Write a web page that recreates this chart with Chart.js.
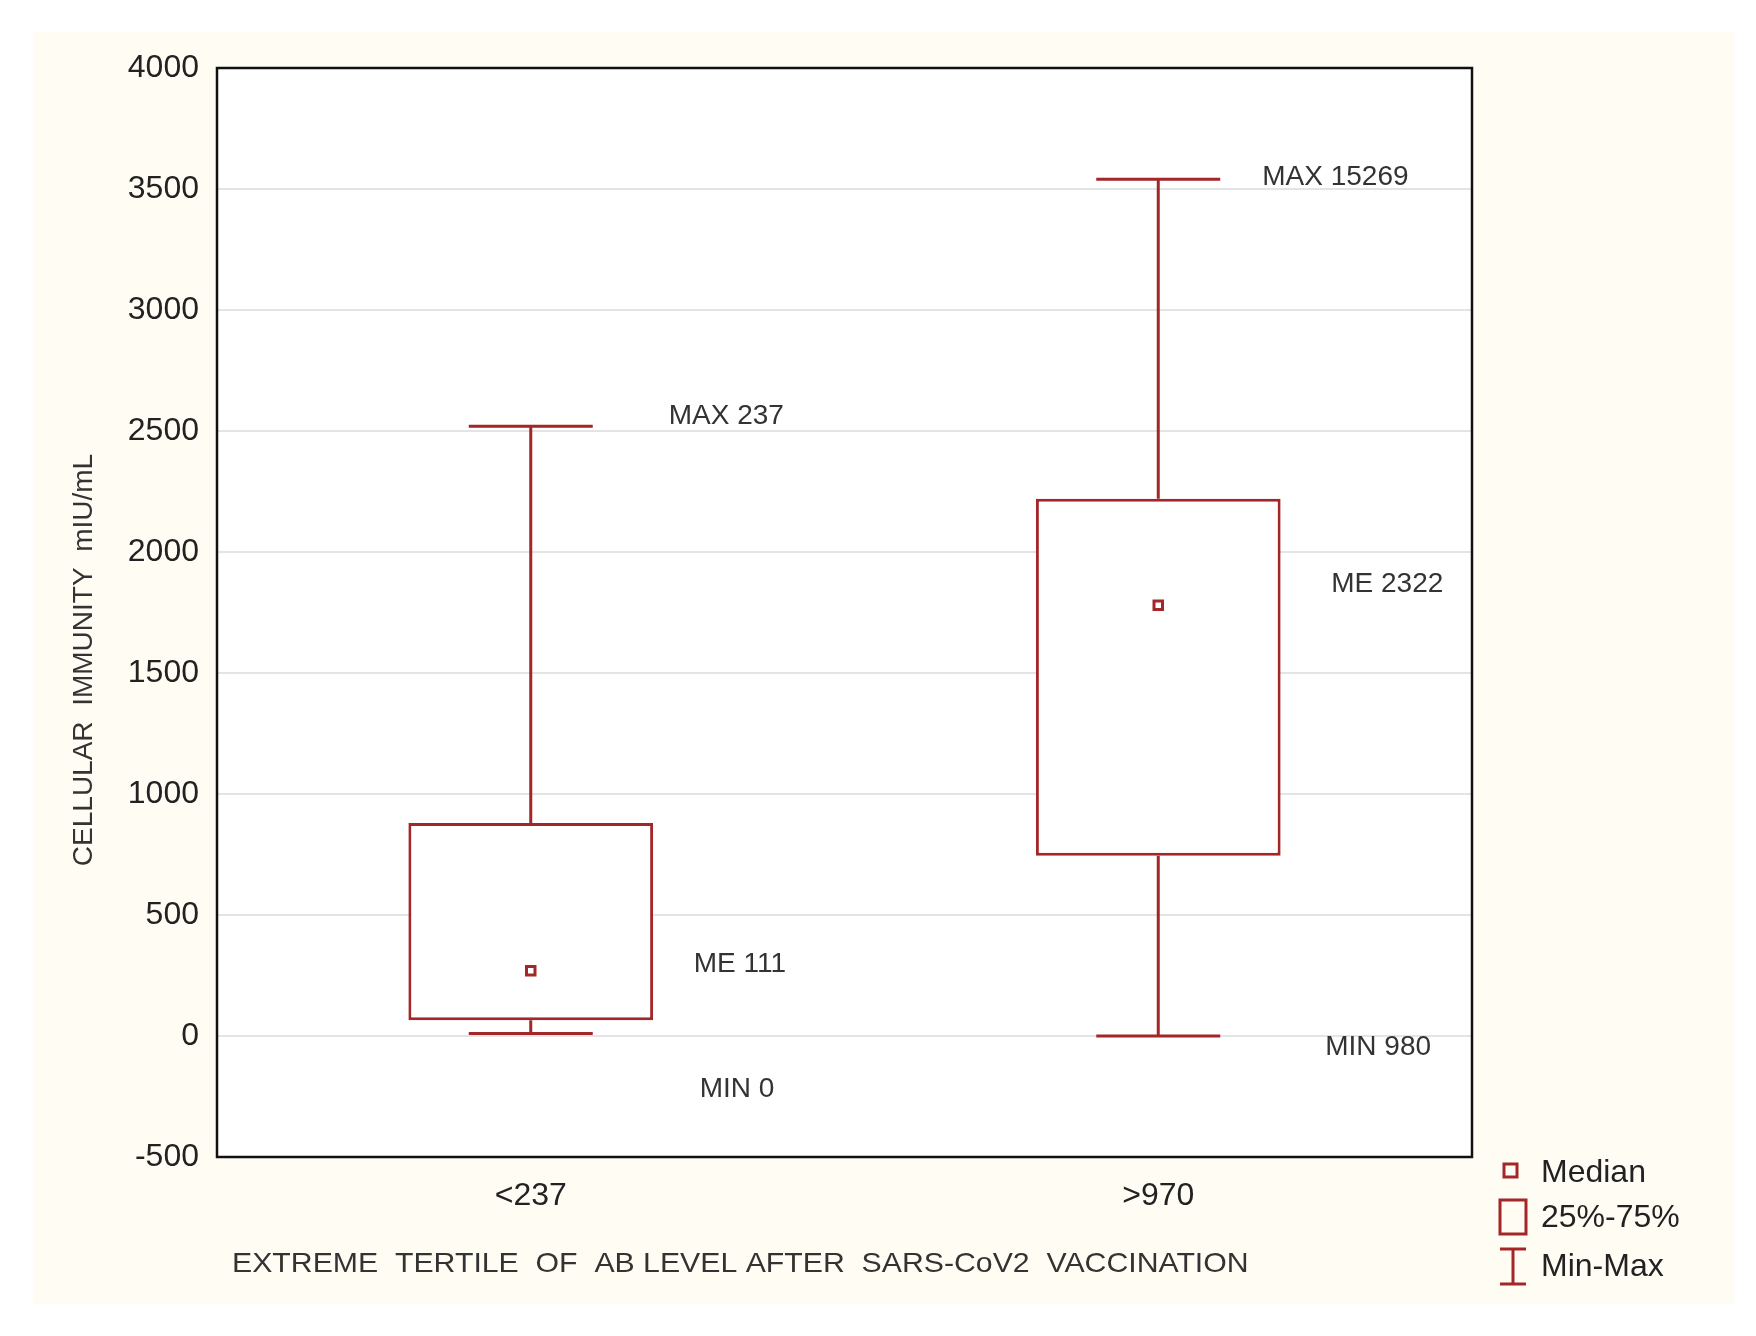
<!DOCTYPE html>
<html><head><meta charset="utf-8">
<script src="https://cdn.jsdelivr.net/npm/chart.js@4"></script>
<style>html,body{margin:0;background:#fff}#wrap{width:1756px;height:1336px}</style>
</head><body><div id="wrap"><canvas id="c"></canvas></div>
<script>
const categories = ["<237", ">970"];
const mins = [10, 0];
const q1s = [65, 745];
const medians = [270, 1780];
const q3s = [880, 2220];
const maxs = [2520, 3540];
const noteText = [["MAX 237", "ME 111", "MIN 0"], ["MAX 15269", "ME 2322", "MIN 980"]];
const noteValue = [[2560, 295, -220], [3550, 1865, -45]];
const noteShift = [[-2, 23, 29], [-36, 33, 27]];
const yTicks = [-500, 0, 500, 1000, 1500, 2000, 2500, 3000, 3500, 4000];
const RED = "#a32628";
const FONT = "'Liberation Sans', Arial, sans-serif";

const extras = {
  id: "extras",
  beforeDraw(chart) {
    const c = chart.ctx;
    c.save();
    c.fillStyle = "#fffdf3";
    c.fillRect(34, 32, 1700, 1272);
    c.fillStyle = "#fff";
    const a = chart.chartArea;
    c.fillRect(a.left, a.top, a.right - a.left, a.bottom - a.top);
    c.restore();
  },
  afterDatasetsDraw(chart) {
    const c = chart.ctx, x = chart.scales.x, y = chart.scales.y, a = chart.chartArea;
    c.save();
    c.strokeStyle = RED; c.lineWidth = 3;
    categories.forEach((cat, i) => {
      const cx = x.getPixelForValue(i);
      c.beginPath();
      c.moveTo(cx, y.getPixelForValue(q3s[i])); c.lineTo(cx, y.getPixelForValue(maxs[i]));
      c.moveTo(cx, y.getPixelForValue(q1s[i])); c.lineTo(cx, y.getPixelForValue(mins[i]));
      c.moveTo(cx - 62, y.getPixelForValue(maxs[i])); c.lineTo(cx + 62, y.getPixelForValue(maxs[i]));
      c.moveTo(cx - 62, y.getPixelForValue(mins[i])); c.lineTo(cx + 62, y.getPixelForValue(mins[i]));
      c.stroke();
      c.fillStyle = "#333"; c.font = "28px " + FONT; c.textBaseline = "middle"; c.textAlign = "left";
      noteText[i].forEach((t, k) => {
        c.fillText(t, cx + 140 + noteShift[i][k], y.getPixelForValue(noteValue[i][k]));
      });
    });
    // frame
    c.strokeStyle = "#111"; c.lineWidth = 2.5;
    c.strokeRect(a.left, a.top, a.right - a.left, a.bottom - a.top);
    // titles
    c.fillStyle = "#333"; c.font = "28px " + FONT; c.textAlign = "left"; c.textBaseline = "middle";
    c.save(); c.translate(232, 1264); c.scale(1.08, 1);
    c.fillText("EXTREME  TERTILE  OF  AB LEVEL AFTER  SARS-CoV2  VACCINATION", 0, 0); c.restore();
    c.save(); c.translate(84, 660); c.rotate(-Math.PI / 2); c.textAlign = "center";
    c.fillText("CELLULAR  IMMUNITY  mIU/mL", 0, 0); c.restore();
    // legend
    c.font = "32px " + FONT; c.fillStyle = "#222";
    c.strokeStyle = RED; c.lineWidth = 3;
    c.strokeRect(1504, 1164, 13, 13);
    c.fillText("Median", 1541, 1173);
    c.strokeRect(1500, 1200, 26, 34);
    c.fillText("25%-75%", 1541, 1218);
    c.beginPath();
    c.moveTo(1500, 1249); c.lineTo(1526, 1249);
    c.moveTo(1513, 1249); c.lineTo(1513, 1284);
    c.moveTo(1500, 1284); c.lineTo(1526, 1284);
    c.stroke();
    c.fillText("Min-Max", 1541, 1267);
    c.restore();
  }
};

new Chart(document.getElementById("c"), {
  data: {
    labels: categories,
    datasets: [
      { type: "bar", data: q1s.map((v, i) => [v, q3s[i]]), backgroundColor: "#fff",
        borderColor: RED, borderWidth: 3, borderSkipped: false,
        barPercentage: 0.39, categoryPercentage: 1, order: 2 },
      { type: "scatter", data: medians.map((v, i) => ({ x: i, y: v })), pointStyle: "rect",
        pointRadius: 6, borderColor: RED, borderWidth: 3, backgroundColor: "#fff", order: 1 }
    ]
  },
  plugins: [extras],
  options: {
    responsive: true, maintainAspectRatio: false, animation: false,
    layout: { padding: { top: 68, right: 284, left: 0, bottom: 0 } },
    plugins: { legend: { display: false }, tooltip: { enabled: false } },
    scales: {
      x: { type: "category", offset: true, grid: { display: false }, border: { display: false },
        afterFit: (s) => { s.height = 179; },
        ticks: { color: "#222", font: { size: 32, family: FONT }, padding: 12 } },
      y: { min: -500, max: 4000, border: { display: false },
        afterBuildTicks: (s) => { s.ticks = yTicks.map((v) => ({ value: v })); },
        afterFit: (s) => { s.width = 217; },
        grid: { color: "#e4e4e4", lineWidth: 2, drawTicks: false },
        ticks: { color: "#222", font: { size: 32, family: FONT }, padding: 18,
          callback: (v) => String(v) } }
    }
  }
});
</script></body></html>
